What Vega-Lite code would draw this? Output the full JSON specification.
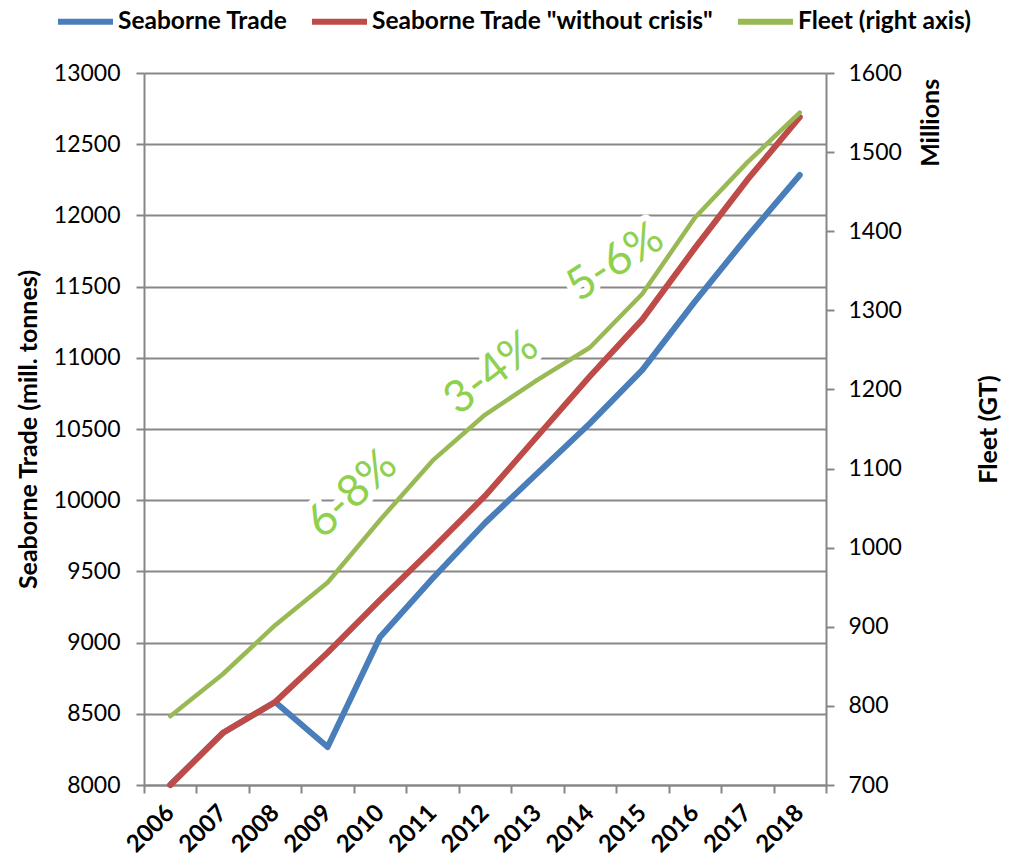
{
  "$schema": "https://vega.github.io/schema/vega-lite/v6.json",
  "width": 682,
  "height": 712,
  "autosize": {"type": "none"},
  "padding": {"left": 144, "top": 73, "right": 189, "bottom": 74},
  "background": "white",
  "config": {
    "view": {"stroke": null},
    "font": "Lato",
    "axis": {
      "domainColor": "#878787",
      "domainWidth": 2,
      "tickColor": "#878787",
      "tickWidth": 2,
      "tickSize": 8,
      "gridColor": "#878787",
      "gridWidth": 2,
      "labelColor": "#000000",
      "labelFont": "Lato",
      "labelFontSize": 23,
      "titleColor": "#000000",
      "titleFont": "Lato",
      "titleFontSize": 25,
      "titleFontWeight": "bold"
    },
    "legend": {
      "labelFont": "Lato",
      "labelFontSize": 24.5,
      "labelFontWeight": "bold",
      "labelColor": "#000000",
      "labelLimit": 0
    }
  },
  "datasets": {
    "trade": [
      {"year": "2006", "series": "Seaborne Trade", "trade": 8000},
      {"year": "2007", "series": "Seaborne Trade", "trade": 8365},
      {"year": "2008", "series": "Seaborne Trade", "trade": 8583},
      {"year": "2009", "series": "Seaborne Trade", "trade": 8267},
      {"year": "2010", "series": "Seaborne Trade", "trade": 9040},
      {"year": "2011", "series": "Seaborne Trade", "trade": 9450},
      {"year": "2012", "series": "Seaborne Trade", "trade": 9840},
      {"year": "2013", "series": "Seaborne Trade", "trade": 10190},
      {"year": "2014", "series": "Seaborne Trade", "trade": 10540},
      {"year": "2015", "series": "Seaborne Trade", "trade": 10915},
      {"year": "2016", "series": "Seaborne Trade", "trade": 11395},
      {"year": "2017", "series": "Seaborne Trade", "trade": 11850},
      {"year": "2018", "series": "Seaborne Trade", "trade": 12284},
      {"year": "2006", "series": "Seaborne Trade \"without crisis\"", "trade": 8000},
      {"year": "2007", "series": "Seaborne Trade \"without crisis\"", "trade": 8365},
      {"year": "2008", "series": "Seaborne Trade \"without crisis\"", "trade": 8583},
      {"year": "2009", "series": "Seaborne Trade \"without crisis\"", "trade": 8930},
      {"year": "2010", "series": "Seaborne Trade \"without crisis\"", "trade": 9300},
      {"year": "2011", "series": "Seaborne Trade \"without crisis\"", "trade": 9660},
      {"year": "2012", "series": "Seaborne Trade \"without crisis\"", "trade": 10030},
      {"year": "2013", "series": "Seaborne Trade \"without crisis\"", "trade": 10450},
      {"year": "2014", "series": "Seaborne Trade \"without crisis\"", "trade": 10870},
      {"year": "2015", "series": "Seaborne Trade \"without crisis\"", "trade": 11270},
      {"year": "2016", "series": "Seaborne Trade \"without crisis\"", "trade": 11770},
      {"year": "2017", "series": "Seaborne Trade \"without crisis\"", "trade": 12250},
      {"year": "2018", "series": "Seaborne Trade \"without crisis\"", "trade": 12690}
    ],
    "fleet": [
      {"year": "2006", "series": "Fleet (right axis)", "fleet": 787},
      {"year": "2007", "series": "Fleet (right axis)", "fleet": 840},
      {"year": "2008", "series": "Fleet (right axis)", "fleet": 902},
      {"year": "2009", "series": "Fleet (right axis)", "fleet": 956},
      {"year": "2010", "series": "Fleet (right axis)", "fleet": 1035},
      {"year": "2011", "series": "Fleet (right axis)", "fleet": 1110},
      {"year": "2012", "series": "Fleet (right axis)", "fleet": 1168},
      {"year": "2013", "series": "Fleet (right axis)", "fleet": 1212},
      {"year": "2014", "series": "Fleet (right axis)", "fleet": 1253},
      {"year": "2015", "series": "Fleet (right axis)", "fleet": 1321},
      {"year": "2016", "series": "Fleet (right axis)", "fleet": 1417},
      {"year": "2017", "series": "Fleet (right axis)", "fleet": 1487},
      {"year": "2018", "series": "Fleet (right axis)", "fleet": 1550}
    ],
    "growth": [
      {"label": "6-8%", "year": 2009.46, "fleet": 1068},
      {"label": "3-4%", "year": 2012.12, "fleet": 1221},
      {"label": "5-6%", "year": 2014.48, "fleet": 1361}
    ],
    "units": [
      {"label": "Millions", "year": 2020.5, "fleet": 1537}
    ]
  },
  "layer": [
    {
      "description": "White halo behind the growth-rate labels, cutting the gridlines",
      "data": {"name": "growth"},
      "mark": {"type": "text", "font": "Lato", "fontSize": 45, "align": "center", "baseline": "middle", "fill": "white", "stroke": "white", "strokeWidth": 12, "strokeJoin": "round"},
      "encoding": {
        "x": {"field": "year", "type": "quantitative", "scale": {"domain": [2005.5, 2018.5], "nice": false, "zero": false}, "axis": null},
        "y": {"field": "fleet", "type": "quantitative", "scale": {"domain": [700, 1600], "nice": false, "zero": false}, "axis": null},
        "angle": {"field": "label", "type": "nominal", "scale": {"domain": ["6-8%", "3-4%", "5-6%"], "range": [317, 327, 314]}, "legend": null},
        "text": {"field": "label"}
      }
    },
    {
      "data": {"name": "trade"},
      "mark": {"type": "line", "strokeWidth": 6, "strokeJoin": "round", "strokeCap": "round"},
      "encoding": {
        "x": {
          "field": "year", "type": "ordinal",
          "scale": {"type": "band", "paddingInner": 0, "paddingOuter": 0},
          "axis": {"title": null, "grid": false, "tickBand": "extent", "labelAngle": -45, "labelAlign": "right", "labelBaseline": "middle", "labelFontWeight": "bold", "labelFontSize": 24, "labelPadding": 16}
        },
        "y": {
          "field": "trade", "type": "quantitative",
          "scale": {"domain": [8000, 13000], "nice": false, "zero": false},
          "axis": {"orient": "left", "title": "Seaborne Trade (mill. tonnes)", "values": [8000, 8500, 9000, 9500, 10000, 10500, 11000, 11500, 12000, 12500, 13000], "format": "d", "grid": true, "labelPadding": 16, "titlePadding": 12}
        },
        "color": {
          "field": "series", "type": "nominal",
          "scale": {"domain": ["Seaborne Trade", "Seaborne Trade \"without crisis\"", "Fleet (right axis)"], "range": ["#4A7EBB", "#BE4B48", "#98B954"]},
          "legend": {"title": null, "orient": "none", "direction": "horizontal", "legendX": -89, "legendY": -82, "padding": 0, "symbolType": "stroke", "symbolStrokeWidth": 6, "symbolSize": 3025, "labelOffset": 2, "columnPadding": 12}
        }
      }
    },
    {
      "data": {"name": "fleet"},
      "mark": {"type": "line", "strokeWidth": 4.5, "strokeJoin": "round", "strokeCap": "round"},
      "encoding": {
        "x": {"field": "year", "type": "ordinal", "scale": {"type": "band", "paddingInner": 0, "paddingOuter": 0}, "axis": null},
        "y": {
          "field": "fleet", "type": "quantitative",
          "scale": {"domain": [700, 1600], "nice": false, "zero": false},
          "axis": {"orient": "right", "title": "Fleet (GT)", "titleAngle": 270, "values": [700, 800, 900, 1000, 1100, 1200, 1300, 1400, 1500, 1600], "format": "d", "grid": false, "labelPadding": 14, "titlePadding": 100}
        },
        "color": {"field": "series", "type": "nominal"}
      }
    },
    {
      "data": {"name": "growth"},
      "mark": {"type": "text", "font": "Lato", "fontSize": 45, "align": "center", "baseline": "middle", "fill": "#8FD14F"},
      "encoding": {
        "x": {"field": "year", "type": "quantitative", "scale": {"domain": [2005.5, 2018.5], "nice": false, "zero": false}, "axis": null},
        "y": {"field": "fleet", "type": "quantitative", "scale": {"domain": [700, 1600], "nice": false, "zero": false}, "axis": null},
        "angle": {"field": "label", "type": "nominal", "legend": null},
        "text": {"field": "label"}
      }
    },
    {
      "description": "Display-unit caption of the fleet axis",
      "data": {"name": "units"},
      "mark": {"type": "text", "font": "Lato", "fontSize": 25, "fontWeight": "bold", "align": "center", "baseline": "middle", "angle": 270, "fill": "#000000"},
      "encoding": {
        "x": {"field": "year", "type": "quantitative", "scale": {"domain": [2005.5, 2018.5], "nice": false, "zero": false}, "axis": null},
        "y": {"field": "fleet", "type": "quantitative", "scale": {"domain": [700, 1600], "nice": false, "zero": false}, "axis": null},
        "text": {"field": "label"}
      }
    }
  ],
  "resolve": {"scale": {"x": "independent", "y": "independent"}}
}
